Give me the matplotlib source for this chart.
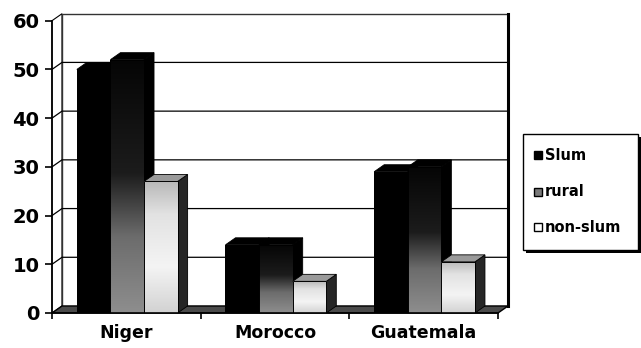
import numpy as np
import matplotlib
matplotlib.use("Agg")
import matplotlib.pyplot as plt
from matplotlib.patches import Polygon, Rectangle
from matplotlib.colors import LinearSegmentedColormap

categories = ["Niger", "Morocco", "Guatemala"]
series = ["Slum", "rural", "non-slum"]
slum = [50, 14, 29]
rural = [52, 14, 30]
non_slum = [27, 6.5, 10.5]
y_ticks = [0, 10, 20, 30, 40, 50, 60]

W, H = 641, 348
fig = plt.figure(figsize=(W / 100, H / 100), dpi=100)
ax = fig.add_axes([52 / W, 1 - 313 / H, 446 / W, (313 - 20.7) / H])
ax.set_xlim(0, 3)
ax.set_ylim(0, 60)

# depth of the pseudo-3D projection, in data units
DX = 10 / 446 * 3
DY = 7 / (313 - 20.7) * 60

ymax = y_ticks[-1]
ncat = len(categories)

# walls and floor
side_wall = Polygon([(0, 0), (0, ymax), (DX, ymax + DY), (DX, DY)],
                    closed=True, facecolor="white", edgecolor="black", lw=0.8,
                    zorder=1, clip_on=False)
back_wall = Polygon([(DX, DY), (DX, ymax + DY), (ncat + DX, ymax + DY), (ncat + DX, DY)],
                    closed=True, facecolor="white", edgecolor="#333333", lw=1.0,
                    zorder=1, clip_on=False)
ax.add_patch(side_wall)
ax.add_patch(back_wall)
ax.plot([ncat + DX, ncat + DX], [DY, ymax + DY], color="black", lw=2.2,
        zorder=1.6, clip_on=False)
for v in y_ticks[1:-1]:
    ax.plot([0, DX, ncat + DX], [v, v + DY, v + DY], color="black", lw=0.9,
            zorder=1.5, clip_on=False)
floor = Polygon([(0, 0), (ncat, 0), (ncat + DX, DY), (DX, DY)], closed=True,
                facecolor="#4a4a4a", edgecolor="black", lw=1.0, zorder=2,
                clip_on=False)
ax.add_patch(floor)

# fills for each series: front gradient (bottom -> top), side and top colours
styles = {
    "Slum": dict(cmap=LinearSegmentedColormap.from_list("s", ["#000000", "#000000"]),
                 side="#000000", top="#000000", edge="black"),
    "rural": dict(cmap=LinearSegmentedColormap.from_list(
        "r", [(0, "#8e8e8e"), (0.3, "#6c6c6c"), (0.55, "#1c1c1c"), (1, "#050505")]),
        side="#000000", top="#000000", edge="black"),
    "non-slum": dict(cmap=LinearSegmentedColormap.from_list(
        "n", [(0, "#d2d2d2"), (0.35, "#f4f4f4"), (0.75, "#e2e2e2"), (1, "#b8b8b8")]),
        side="#262626", top="#9a9a9a", edge="black"),
}

values = {"Slum": slum, "rural": rural, "non-slum": non_slum}
bw = 0.226
grad = np.linspace(0, 1, 256).reshape(-1, 1)

for g in range(ncat):
    start = g + 0.5 + 0.006 - 1.5 * bw
    for i, name in enumerate(series):
        h = values[name][g]
        st = styles[name]
        x0 = start + i * bw
        x1 = x0 + bw
        z = 3 + (g * 3 + i) * 0.1
        side = Polygon([(x1, 0), (x1 + DX, DY), (x1 + DX, h + DY), (x1, h)],
                       closed=True, facecolor=st["side"], edgecolor=st["edge"],
                       lw=0.6, zorder=z, clip_on=False)
        top = Polygon([(x0, h), (x1, h), (x1 + DX, h + DY), (x0 + DX, h + DY)],
                      closed=True, facecolor=st["top"], edgecolor=st["edge"],
                      lw=0.6, zorder=z, clip_on=False)
        ax.add_patch(side)
        ax.add_patch(top)
        bar = ax.bar(x0, h, width=bw, align="edge", facecolor="none",
                     edgecolor=st["edge"], lw=0.7, zorder=z + 0.05)[0]
        im = ax.imshow(grad, cmap=st["cmap"], origin="lower", aspect="auto",
                       extent=[x0, x1, 0, h], zorder=z + 0.04, interpolation="bilinear")
        im.set_clip_path(bar)

ax.set_xlim(0, ncat)
ax.set_ylim(0, ymax)

# axes styling
for s in ["top", "right"]:
    ax.spines[s].set_visible(False)
ax.spines["left"].set_linewidth(1.2)
ax.spines["bottom"].set_linewidth(1.2)
ax.spines["left"].set_zorder(5)
ax.spines["bottom"].set_zorder(5)
ax.set_yticks(y_ticks)
ax.set_yticklabels([str(v) for v in y_ticks])
ax.tick_params(axis="y", length=5, width=1.2, pad=4, labelsize=14)
for lab in ax.get_yticklabels():
    lab.set_fontweight("bold")
ax.set_xticks(range(ncat + 1))
ax.set_xticklabels([])
ax.set_xticks([g + 0.5 for g in range(ncat)], minor=True)
ax.set_xticklabels(categories, minor=True, fontsize=12.5, fontweight="bold")
ax.tick_params(axis="x", which="major", length=4, width=1.2)
ax.tick_params(axis="x", which="minor", length=0, pad=8)

# legend box with shadow, drawn in pixel coordinates of the figure
def px(x, y):
    return x / W, 1 - y / H

lx0, ly0, lx1, ly1 = 523, 134, 638, 250
fig.patches.append(Rectangle(px(lx0 + 3, ly1 + 3), (lx1 - lx0) / W, (ly1 - ly0) / H,
                             transform=fig.transFigure, facecolor="black",
                             edgecolor="none", zorder=0))
fig.patches.append(Rectangle(px(lx0, ly1), (lx1 - lx0) / W, (ly1 - ly0) / H,
                             transform=fig.transFigure, facecolor="white",
                             edgecolor="black", lw=1.0, zorder=1))
leg_y = [155, 192, 227]
leg_face = {"Slum": "#000000", "rural": "#7a7a7a", "non-slum": "#ffffff"}
for name, yy in zip(series, leg_y):
    fig.patches.append(Rectangle(px(534, yy + 4), 8 / W, 8 / H,
                                 transform=fig.transFigure,
                                 facecolor=leg_face[name], edgecolor="black",
                                 lw=1.0, zorder=2))
    fig.text(*px(545, yy), name, fontsize=10.5, fontweight="bold",
             va="center", ha="left", zorder=3)

fig.savefig("out.png", dpi=100)
